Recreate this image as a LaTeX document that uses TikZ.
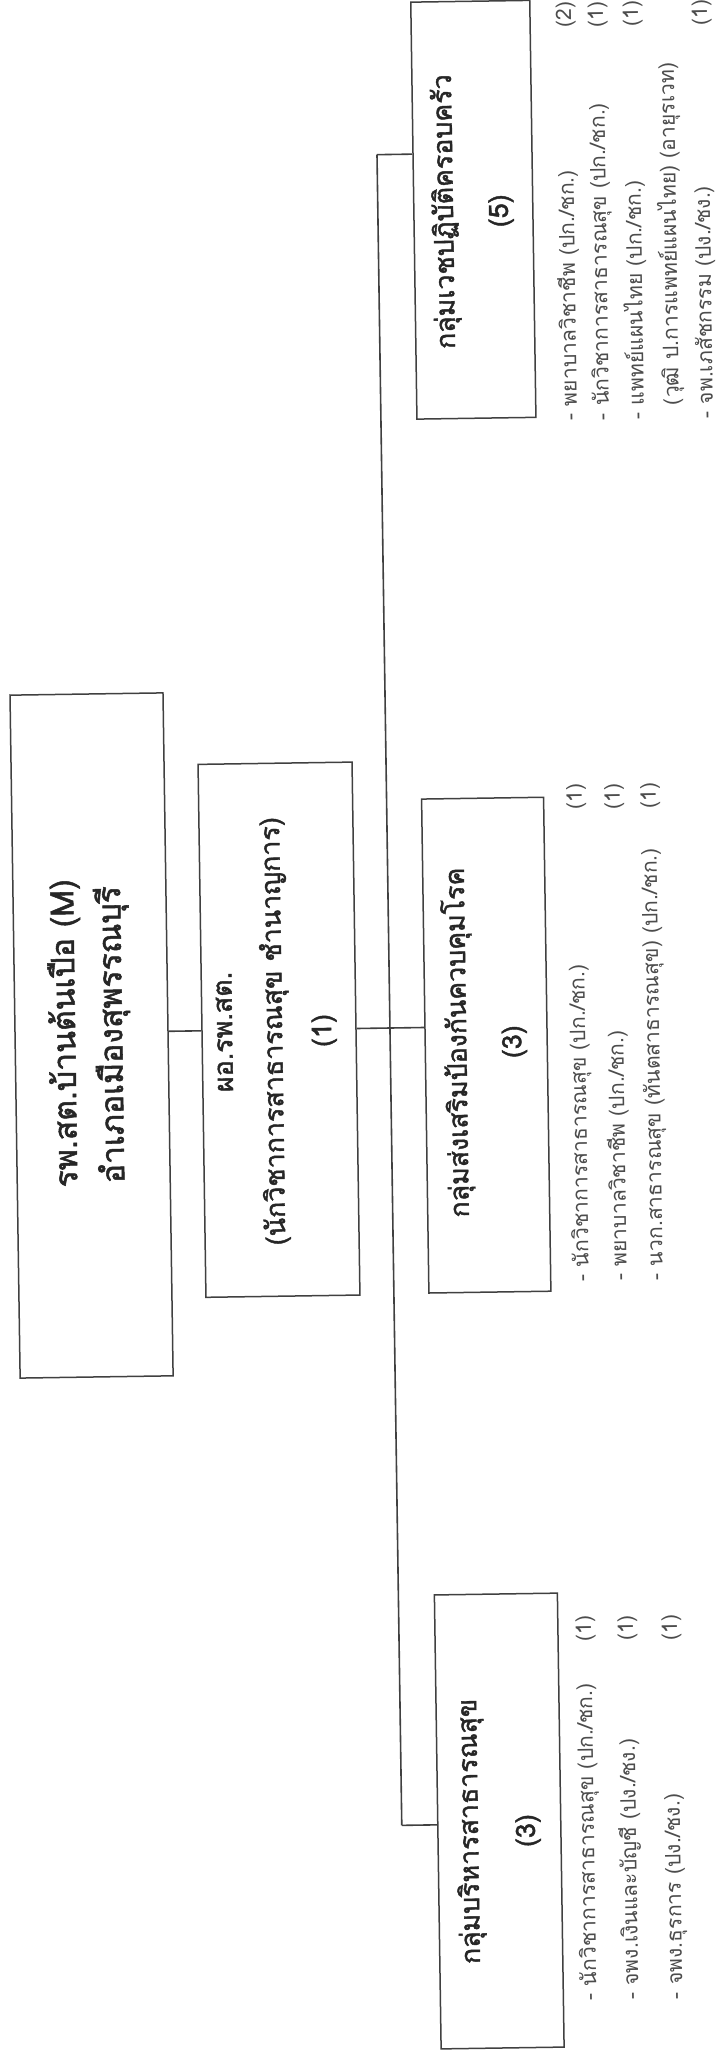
\documentclass[tikz,border=0pt]{standalone}
\usepackage{fontspec}
\newfontfamily\thai[Script=Thai]{Loma}
\newfontfamily\thaib[Script=Thai,FakeBold=1.6]{Loma}
\newlength\mw
\newcommand\calib[3]{\settowidth\mw{#3}\edef#1{\fpeval{round(10*#2/\mw,2)}}}
\begin{document}
\calib\szT{308}{\thaib\fontsize{10}{12}\selectfont รพ.สต.บ้านต้นเปือ (M)}
\calib\szP{428}{\thaib\fontsize{10}{12}\selectfont (นักวิชาการสาธารณสุข ชำนาญการ)}
\calib\szG{350}{\thaib\fontsize{10}{12}\selectfont กลุ่มส่งเสริมป้องกันควบคุมโรค}
\calib\szL{317}{\thai\fontsize{10}{12}\selectfont - นักวิชาการสาธารณสุข (ปก./ชก.)}
\begin{tikzpicture}[x=1pt,y=-1pt,
  box/.style={draw=black!75, line width=1.5pt, inner sep=0pt},
  conn/.style={draw=black!75, line width=1.6pt},
  ttl/.style={rotate=90, anchor=mid, inner sep=0pt, text=black!85,
    font=\thaib\fontsize{\szT}{\szT}\selectfont},
  pot/.style={rotate=90, anchor=mid, inner sep=0pt, text=black!85,
    font=\thaib\fontsize{\szP}{\szP}\selectfont},
  grt/.style={rotate=90, anchor=mid, inner sep=0pt, text=black!85,
    font=\thaib\fontsize{\szG}{\szG}\selectfont},
  item/.style={rotate=90, anchor=mid west, inner sep=0pt, text=black!70,
    font=\thai\fontsize{\szL}{\szL}\selectfont},
  cnt/.style={rotate=90, anchor=mid, inner sep=0pt, text=black!70,
    font=\thai\fontsize{\szL}{\szL}\selectfont}]
\useasboundingbox (0,0) rectangle (721,2060);
\fill[white] (0,0) rectangle (721,2060);
\begin{scope}[rotate around={0.85:(360,1030)}, transform shape]
% boxes
\node[box, minimum width=153pt, minimum height=683pt] (title) at (91.5,1031.5) {};
\node[box, minimum width=154pt, minimum height=533pt] (po) at (279,1028.5) {};
\node[box, minimum width=119pt, minimum height=417pt] (grpA) at (485.5,211.5) {};
\node[box, minimum width=122pt, minimum height=494pt] (grpB) at (486,1047) {};
\node[box, minimum width=123pt, minimum height=454pt] (grpC) at (487.5,1823) {};
% box texts
\node[ttl] (t1) at (73,1029) {รพ.สต.บ้านต้นเปือ (M)};
\node[ttl] (t2) at (120,1031) {อำเภอเมืองสุพรรณบุรี};
\node[pot] (p1) at (230,1030) {ผอ.รพ.สต.};
\node[pot] (p2) at (280,1030) {(นักวิชาการสาธารณสุข ชำนาญการ)};
\node[pot] (p3) at (329,1030) {(1)};
\node[grt] (gA1) at (463,213) {กลุ่มเวชปฏิบัติครอบครัว};
\node[grt] (gA2) at (518,213) {(5)};
\node[grt] (gB1) at (464,1044) {กลุ่มส่งเสริมป้องกันควบคุมโรค};
\node[grt] (gB2) at (519,1044) {(3)};
\node[grt] (gC1) at (464,1833) {กลุ่มบริหารสาธารณสุข};
\node[grt] (gC2) at (521,1833) {(3)};
% connectors
\coordinate (ttop) at (390,155);
\coordinate (tbot) at (390,1826);
\draw[conn] (title.east |- po.west) -- (po.west);
\draw[conn] (po.east) -- (po.east -| grpB.west);
\draw[conn] (ttop) -- (tbot);
\draw[conn] (ttop) -- (ttop -| grpA.west);
\draw[conn] (tbot) -- (tbot -| grpC.west);
% list A
\node[item] (a1) at (584,424) {- พยาบาลวิชาชีพ (ปก./ชก.)};
\node[item] (a2) at (616,424) {- นักวิชาการสาธารณสุข (ปก./ชก.)};
\node[item] (a3) at (651,424) {- แพทย์แผนไทย (ปก./ชก.)};
\node[item] (a4) at (686,410) {(วุฒิ ป.การแพทย์แผนไทย) (อายุรเวท)};
\node[item] (a5) at (720,424) {- จพ.เภสัชกรรม (ปง./ชง.)};
\node[cnt] (ca1) at (584,18) {(2)};
\node[cnt] (ca2) at (616,18) {(1)};
\node[cnt] (ca3) at (651,18) {(1)};
\node[cnt] (ca5) at (720,18) {(1)};
% list B
\node[item] (b1) at (583,1285) {- นักวิชาการสาธารณสุข (ปก./ชก.)};
\node[item] (b2) at (621,1285) {- พยาบาลวิชาชีพ (ปก./ชก.)};
\node[item] (b3) at (657,1285) {- นวก.สาธารณสุข (ทันตสาธารณสุข) (ปก./ชก.)};
\node[cnt] (cb1) at (583,800) {(1)};
\node[cnt] (cb2) at (621,800) {(1)};
\node[cnt] (cb3) at (657,800) {(1)};
% list C
\node[item] (c1) at (580,2004) {- นักวิชาการสาธารณสุข (ปก./ชก.)};
\node[item] (c2) at (622,2004) {- จพง.เงินและบัญชี (ปง./ชง.)};
\node[item] (c3) at (666,2004) {- จพง.ธุรการ (ปง./ชง.)};
\node[cnt] (cc1) at (580,1632) {(1)};
\node[cnt] (cc2) at (622,1632) {(1)};
\node[cnt] (cc3) at (666,1632) {(1)};
\end{scope}
\end{tikzpicture}
\end{document}
